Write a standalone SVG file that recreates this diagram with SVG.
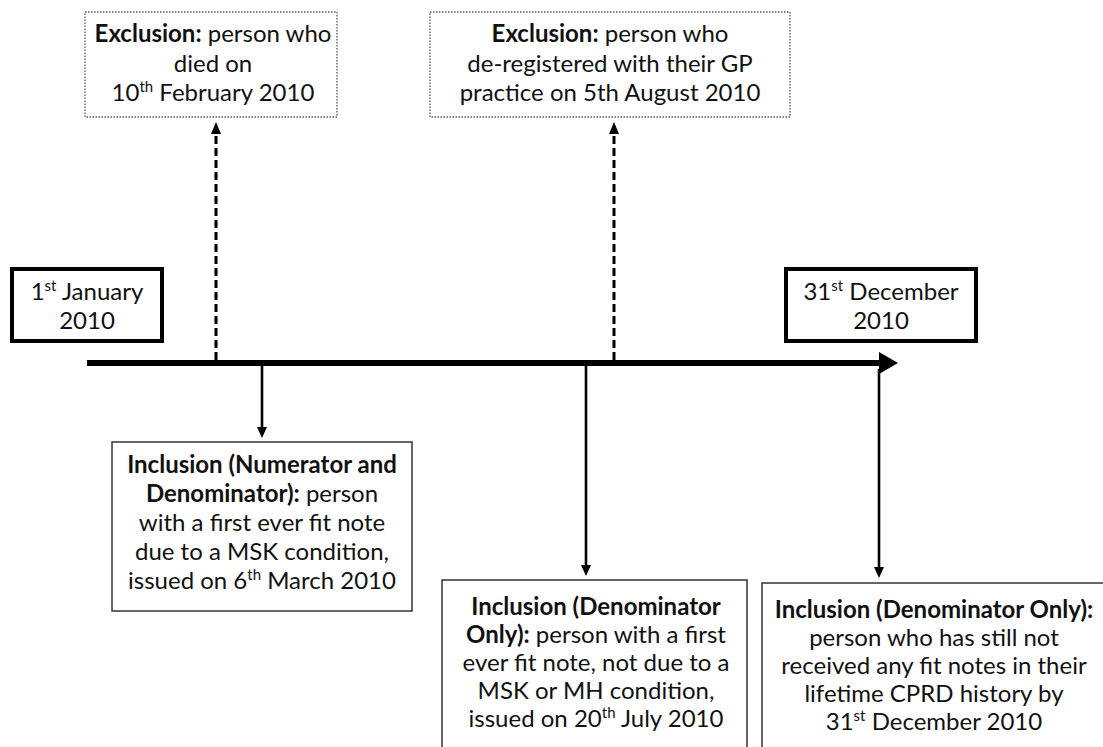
<svg xmlns="http://www.w3.org/2000/svg" width="1103" height="747" viewBox="0 0 1103 747">
<defs>
<style>
text{font-family:Lato,"Open Sans","Liberation Sans",sans-serif;font-size:24px;fill:#111;text-anchor:middle}
.b{font-weight:bold}
.sup{font-size:15px}
.date{fill:#fff;stroke:#000;stroke-width:4}
.excl{fill:#fff;stroke:#555;stroke-width:1.3;stroke-dasharray:1.5 1.5}
.incl{fill:#fff;stroke:#333;stroke-width:1.5}
.dash{stroke:#000;stroke-width:3;stroke-dasharray:8 4;fill:none}
.solid{stroke:#000;stroke-width:2.6;fill:none}
.ah{fill:#000}
</style>
</defs>
<g id="connectors">
<line x1="87" y1="363" x2="882" y2="363" stroke="#000" stroke-width="6"/>
<path class="ah" d="M879,352L898,363L879,374z"/>
<line class="dash" x1="216" y1="360" x2="216" y2="133"/>
<path class="ah" d="M211,134L216,122L221,134z"/>
<line class="dash" x1="614" y1="360" x2="614" y2="133"/>
<path class="ah" d="M609,134L614,122L619,134z"/>
<line class="solid" x1="262" y1="366" x2="262" y2="428"/>
<path class="ah" d="M257,427L262,438L267,427z"/>
<line class="solid" x1="586" y1="366" x2="586" y2="566"/>
<path class="ah" d="M581,565L586,576L591,565z"/>
<line class="solid" x1="879" y1="369" x2="879" y2="568"/>
<path class="ah" d="M874,567L879,578L884,567z"/>
</g>
<g id="start">
<rect class="date" x="12" y="269" width="150" height="72"/>
<text x="87" y="300">1<tspan class="sup" dy="-9">st</tspan><tspan dy="9"> January</tspan></text>
<text x="87" y="329">2010</text>
</g>
<g id="end">
<rect class="date" x="786" y="269" width="190" height="72"/>
<text x="881" y="300">31<tspan class="sup" dy="-9">st</tspan><tspan dy="9"> December</tspan></text>
<text x="881" y="329">2010</text>
</g>
<g id="excl1">
<rect class="excl" x="85" y="12" width="252" height="105"/>
<text x="213" y="42"><tspan class="b">Exclusion:</tspan> person who</text>
<text x="213" y="72">died on</text>
<text x="213" y="101">10<tspan class="sup" dy="-9">th</tspan><tspan dy="9"> February 2010</tspan></text>
</g>
<g id="excl2">
<rect class="excl" x="430" y="12" width="360" height="105"/>
<text x="610" y="42"><tspan class="b">Exclusion:</tspan> person who</text>
<text x="610" y="72">de-registered with their GP</text>
<text x="610" y="101">practice on 5th August 2010</text>
</g>
<g id="incl1">
<rect class="incl" x="112" y="442" width="300" height="169"/>
<text x="262" y="473" class="b">Inclusion (Numerator and</text>
<text x="262" y="502"><tspan class="b">Denominator):</tspan> person</text>
<text x="262" y="531">with a first ever fit note</text>
<text x="262" y="560">due to a MSK condition,</text>
<text x="262" y="589">issued on 6<tspan class="sup" dy="-9">th</tspan><tspan dy="9"> March 2010</tspan></text>
</g>
<g id="incl2">
<rect class="incl" x="442" y="580" width="305" height="180"/>
<text x="596" y="615" class="b">Inclusion (Denominator</text>
<text x="596" y="643"><tspan class="b">Only):</tspan> person with a first</text>
<text x="596" y="671">ever fit note, not due to a</text>
<text x="596" y="699">MSK or MH condition,</text>
<text x="596" y="727">issued on 20<tspan class="sup" dy="-9">th</tspan><tspan dy="9"> July 2010</tspan></text>
</g>
<g id="incl3">
<rect class="incl" x="762" y="583" width="350" height="180"/>
<text x="934" y="618" class="b">Inclusion (Denominator Only):</text>
<text x="934" y="646">person who has still not</text>
<text x="934" y="674">received any fit notes in their</text>
<text x="934" y="702">lifetime CPRD history by</text>
<text x="934" y="730">31<tspan class="sup" dy="-9">st</tspan><tspan dy="9"> December 2010</tspan></text>
</g>
</svg>
